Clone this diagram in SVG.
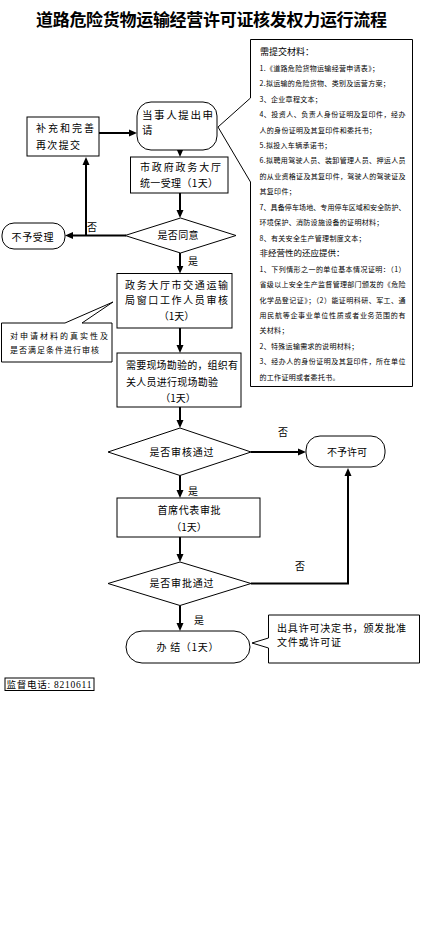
<svg xmlns="http://www.w3.org/2000/svg" width="433" height="927" viewBox="0 0 433 927">
<defs>
<marker id="ah" markerWidth="8" markerHeight="8" refX="5" refY="4" orient="auto" markerUnits="userSpaceOnUse"><path d="M0,0.5 L8,4 L0,7.5 Z" fill="#000"/></marker>
<style>
.bx{fill:#fff;stroke:#000;stroke-width:1}
.cn{fill:none;stroke:#000;stroke-width:2;marker-end:url(#ah)}
text{font-family:"Noto Sans CJK SC","Noto Sans",sans-serif;fill:#000;font-size:10px}
.m{text-anchor:middle}
.s{font-size:7px;letter-spacing:0.3px}
.sf{font-size:7px}
.t{font-size:17px;font-weight:bold}
.sv{font-family:"Liberation Serif","Noto Sans CJK SC",serif;font-size:10px}
</style>
</defs>
<rect width="433" height="927" fill="#fff"/>
<text class="t" x="36" y="25.5" textLength="351" lengthAdjust="spacing">道路危险货物运输经营许可证核发权力运行流程</text>

<g id="connectors">
<path class="cn" d="M99,133 H134"/>
<path class="cn" d="M180,150 V154"/>
<path class="cn" d="M180,193 V215"/>
<path class="cn" d="M126,235.5 H68"/>
<path class="cn" d="M86,235.5 V160"/>
<path class="cn" d="M180,253 V270.5"/>
<path class="cn" d="M180,328 V350"/>
<path class="cn" d="M180,407 V425"/>
<path class="cn" d="M251,452 H303"/>
<path class="cn" d="M180,475.5 V495"/>
<path class="cn" d="M180,537 V559"/>
<path class="cn" d="M251,583.5 H348 V471"/>
<path class="cn" d="M180,605.5 V628"/>
<text x="87" y="230.8">否</text>
<text x="188" y="264.8">是</text>
<text x="278" y="435.8">否</text>
<text x="188" y="494.8">是</text>
<text x="295" y="569.8">否</text>
<text x="194" y="623.8">是</text>
</g>

<g id="materials">
<path class="bx" d="M250.5,39.5 H412.5 V386.5 H250.5 V182 L218,127 L250.5,98 Z"/>
<text x="260" y="54.5" style="font-size:9px">需提交材料：</text>
<text class="s" x="259.5" y="70.7">1.《道路危险货物运输经营申请表》；</text>
<text class="s" x="259.5" y="86.2">2.拟运输的危险货物、类别及运营方案；</text>
<text class="s" x="259.5" y="101.6">3、企业章程文本；</text>
<text class="sf" x="259.5" y="117.1" textLength="146" lengthAdjust="spacing">4、投资人、负责人身份证明及复印件，经办</text>
<text class="s" x="259.5" y="132.5">人的身份证明及其复印件和委托书；</text>
<text class="s" x="259.5" y="148">5.拟投入车辆承诺书；</text>
<text class="sf" x="259.5" y="163.4" textLength="146" lengthAdjust="spacing">6.拟聘用驾驶人员、装卸管理人员、押运人员</text>
<text class="sf" x="259.5" y="178.9" textLength="146" lengthAdjust="spacing">的从业资格证及其复印件，驾驶人的驾驶证及</text>
<text class="s" x="259.5" y="194.3">其复印件；</text>
<text class="sf" x="259.5" y="209.8" textLength="146" lengthAdjust="spacing">7、具备停车场地、专用停车区域和安全防护、</text>
<text class="s" x="259.5" y="225.2">环境保护、消防设施设备的证明材料；</text>
<text class="s" x="259.5" y="240.7">8、有关安全生产管理制度文本；</text>
<text x="259.5" y="256.2" style="font-size:8.5px">非经营性的还应提供：</text>
<text class="sf" x="259.5" y="271.6" textLength="146" lengthAdjust="spacing">1、下列情形之一的单位基本情况证明：（1）</text>
<text class="sf" x="259.5" y="287.1" textLength="146" lengthAdjust="spacing">省级以上安全生产监督管理部门颁发的《危险</text>
<text class="sf" x="259.5" y="302.5" textLength="146" lengthAdjust="spacing">化学品登记证》；（2）能证明科研、军工、通</text>
<text class="sf" x="259.5" y="318" textLength="146" lengthAdjust="spacing">用民航等企事业单位性质或者业务范围的有</text>
<text class="s" x="259.5" y="333.4">关材料；</text>
<text class="s" x="259.5" y="348.9">2、特殊运输需求的说明材料；</text>
<text class="sf" x="259.5" y="364.3" textLength="146" lengthAdjust="spacing">3、经办人的身份证明及其复印件，所在单位</text>
<text class="s" x="259.5" y="379.8">的工作证明或者委托书。</text>
</g>

<g id="apply">
<rect class="bx" x="137" y="102" width="80" height="48" rx="14"/>
<text x="142" y="118.8" style="font-size:10.5px" textLength="71" lengthAdjust="spacing">当事人提出申</text>
<text x="142" y="133.8" style="font-size:10.5px">请</text>
</g>

<g id="resubmit">
<rect class="bx" x="27" y="117" width="72" height="39"/>
<text x="36" y="131.8" textLength="58" lengthAdjust="spacing">补充和完善</text>
<text x="36" y="148.8" textLength="44" lengthAdjust="spacing">再次提交</text>
</g>

<g id="accept">
<rect class="bx" x="130.5" y="157" width="97.5" height="36"/>
<text x="140" y="170.8" textLength="81" lengthAdjust="spacing">市政府政务大厅</text>
<text x="140" y="186.8" textLength="78" lengthAdjust="spacing">统一受理（1天）</text>
</g>

<g id="agree">
<polygon class="bx" points="125,235.5 180.5,218 236,235.5 180.5,253"/>
<text class="m" x="178" y="239.3" textLength="41" lengthAdjust="spacing">是否同意</text>
</g>

<g id="reject">
<rect class="bx" x="2" y="223" width="63" height="26" rx="12"/>
<text class="m" x="32.5" y="240.8" textLength="42" lengthAdjust="spacing">不予受理</text>
</g>

<g id="review">
<rect class="bx" x="117" y="273.5" width="115" height="54.5"/>
<text x="125" y="288.8" textLength="103" lengthAdjust="spacing">政务大厅市交通运输</text>
<text x="125" y="303.8" textLength="103" lengthAdjust="spacing">局窗口工作人员审核</text>
<text class="m" x="176.5" y="319.8">（1天）</text>
</g>

<g id="review-note">
<path class="bx" d="M1.5,323 H65 L113,302 L82,323 H112 V362 H1.5 Z"/>
<text x="10" y="339" style="font-size:8px" textLength="98" lengthAdjust="spacing">对申请材料的真实性及</text>
<text x="10" y="353" style="font-size:8px" textLength="89" lengthAdjust="spacing">是否满足条件进行审核</text>
</g>

<g id="inspect">
<rect class="bx" x="117" y="353" width="124" height="54"/>
<text x="126" y="368.8" textLength="112" lengthAdjust="spacing">需要现场勘验的，组织有</text>
<text x="126" y="385.8" textLength="92" lengthAdjust="spacing">关人员进行现场勘验</text>
<text class="m" x="178" y="401.8">（1天）</text>
</g>

<g id="pass-review">
<polygon class="bx" points="108,452 180,428 251,452 180,475.5"/>
<text class="m" x="181.5" y="455.8" textLength="64" lengthAdjust="spacing">是否审核通过</text>
</g>

<g id="deny">
<rect class="bx" x="306" y="436" width="79" height="31" rx="14"/>
<text class="m" x="347" y="455.8" textLength="40" lengthAdjust="spacing">不予许可</text>
</g>

<g id="approve">
<rect class="bx" x="117" y="498" width="143" height="39"/>
<text class="m" x="189" y="513.8" textLength="63" lengthAdjust="spacing">首席代表审批</text>
<text class="m" x="189" y="530.8">（1天）</text>
</g>

<g id="pass-approve">
<polygon class="bx" points="108,583.5 180,562 251,583.5 180,605.5"/>
<text class="m" x="181.5" y="587.3" textLength="64" lengthAdjust="spacing">是否审批通过</text>
</g>

<g id="finish">
<rect class="bx" x="126" y="631" width="124" height="32" rx="16"/>
<text class="m" x="187.5" y="650.8" textLength="62" lengthAdjust="spacing">办 结（1天）</text>
</g>

<g id="finish-note">
<path class="bx" d="M268.5,615 H419.5 V663 H268.5 V648 L252,643 L268.5,638 Z"/>
<text x="277" y="631.8" textLength="129" lengthAdjust="spacing">出具许可决定书，颁发批准</text>
<text x="277" y="645.8" textLength="64" lengthAdjust="spacing">文件或许可证</text>
</g>

<g id="hotline">
<rect class="bx" x="5" y="678" width="89" height="12.5"/>
<text class="sv" x="6.5" y="688" style="font-size:9.5px" textLength="85" lengthAdjust="spacing">监督电话: 8210611</text>
</g>
</svg>
